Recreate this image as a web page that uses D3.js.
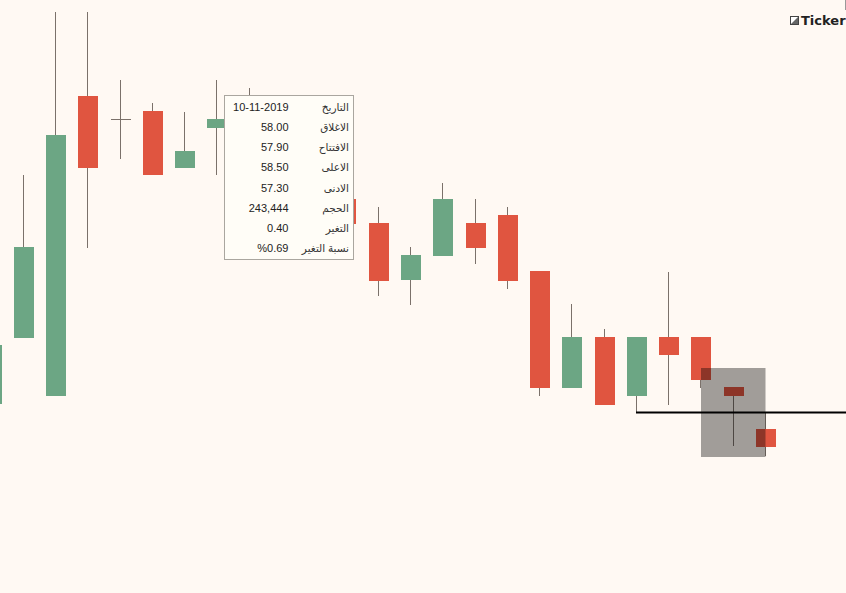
<!DOCTYPE html>
<html>
<head>
<meta charset="utf-8">
<script src="https://cdn.jsdelivr.net/npm/d3@7"></script>
<style>
  html, body { margin: 0; padding: 0; background: #fff9f3; overflow: hidden; }
  svg { display: block; }
</style>
</head>
<body>
<div id="chart"></div>
<script>
// candles 9 and 10 sit behind the tooltip so they are guesses
const opens  = [54.55, 55.37, 54.65, 58.40, 58.11, 58.21, 57.50, 58.00, 57.90, 57.80, 57.60, 57.11, 56.81, 56.10, 56.40, 56.81, 56.91, 56.21, 54.75, 55.39, 54.65, 55.39, 55.39, 54.76, 54.24];
const closes = [55.29, 56.51, 57.91, 57.50, 58.11, 57.41, 57.71, 58.11, 58.00, 57.60, 57.40, 56.80, 56.09, 56.41, 57.11, 56.50, 56.09, 54.75, 55.39, 54.54, 55.39, 55.16, 54.85, 54.65, 54.01];
const highs  = [55.29, 57.41, 59.45, 59.45, 58.60, 58.31, 58.20, 58.60, 58.50, 57.90, 57.70, 57.20, 57.01, 56.51, 57.31, 57.11, 57.01, 56.21, 55.80, 55.49, 55.39, 56.20, 55.39, 54.76, 54.45];
const lows   = [54.55, 55.37, 54.65, 56.50, 57.61, 57.41, 57.50, 57.41, 57.30, 57.50, 57.20, 56.70, 55.90, 55.79, 56.40, 56.30, 55.99, 54.65, 54.75, 54.54, 54.45, 54.54, 54.75, 54.03, 53.90];

const supportPrice = 54.45;
const selectionPrices = [55.00, 53.89];
const selectionCandles = [22, 24];

const tooltipLabels = ['التاريخ', 'الاغلاق', 'الافتتاح', 'الاعلى', 'الادنى', 'الحجم', 'التغير', 'نسبة التغير'];
const tooltipValues = ['10-11-2019', '58.00', '57.90', '58.50', '57.30', '243,444', '0.40', '%0.69'];

const width = 846;
const height = 593;
const bodyWidth = 20;
const green = '#6ca684';
const red = '#e05540';
const wickColor = '#7b716a';

const xScale = d3.scaleLinear().domain([0, 24]).range([-8.5, 766]);
const yScale = d3.scaleLinear().domain([58.5, 53.9]).range([88, 456]);
const px = v => Math.round(yScale(v));

const svg = d3.select('#chart')
  .append('svg')
  .attr('width', width)
  .attr('height', height);

svg.append('rect')
  .attr('width', width)
  .attr('height', height)
  .attr('fill', '#fff9f3');

const candles = opens.map((open, i) => ({ i, open, close: closes[i], high: highs[i], low: lows[i] }));

const groups = svg.append('g')
  .attr('class', 'candles')
  .selectAll('g')
  .data(candles)
  .join('g');

groups.append('line')
  .attr('x1', d => Math.round(xScale(d.i)) - 0.5)
  .attr('x2', d => Math.round(xScale(d.i)) - 0.5)
  .attr('y1', d => px(d.high))
  .attr('y2', d => px(d.low))
  .attr('stroke', wickColor)
  .attr('stroke-width', 1);

// a flat candle has no body, just a dash across the wick
groups.filter(d => d.open === d.close)
  .append('line')
  .attr('x1', d => Math.round(xScale(d.i)) - bodyWidth / 2)
  .attr('x2', d => Math.round(xScale(d.i)) + bodyWidth / 2)
  .attr('y1', d => px(d.open) + 0.5)
  .attr('y2', d => px(d.open) + 0.5)
  .attr('stroke', wickColor);

groups.filter(d => d.open !== d.close)
  .append('rect')
  .attr('x', d => Math.round(xScale(d.i)) - bodyWidth / 2)
  .attr('width', bodyWidth)
  .attr('y', d => px(Math.max(d.open, d.close)))
  .attr('height', d => px(Math.min(d.open, d.close)) - px(Math.max(d.open, d.close)))
  .attr('fill', d => d.close > d.open ? green : red);

// drawn selection box, its right edge stops on the last wick
svg.append('rect')
  .attr('x', Math.round(xScale(selectionCandles[0])))
  .attr('y', px(selectionPrices[0]))
  .attr('width', Math.round(xScale(selectionCandles[1])) - Math.round(xScale(selectionCandles[0])) - 0.5)
  .attr('height', px(selectionPrices[1]) - px(selectionPrices[0]))
  .attr('fill', '#000')
  .attr('fill-opacity', 0.37);

// support line runs off the right edge
svg.append('line')
  .attr('x1', Math.round(xScale(20)) - 1)
  .attr('x2', width)
  .attr('y1', px(supportPrice) + 0.5)
  .attr('y2', px(supportPrice) + 0.5)
  .attr('stroke', '#000')
  .attr('stroke-width', 2);

// tooltip
const tooltip = svg.append('g').attr('class', 'tooltip');

tooltip.append('rect')
  .attr('x', 224.5)
  .attr('y', 95.5)
  .attr('width', 129)
  .attr('height', 164)
  .attr('fill', '#fffdf7')
  .attr('stroke', '#aaa69f');

const rowY = d3.scalePoint().domain(d3.range(tooltipLabels.length)).range([111, 252]);

tooltip.selectAll('text.label')
  .data(tooltipLabels)
  .join('text')
  .attr('class', 'label')
  .attr('x', 349)
  .attr('y', (d, i) => rowY(i))
  .attr('direction', 'rtl')
  .attr('text-anchor', 'start')
  .attr('font-family', '"Noto Sans", "DejaVu Sans", sans-serif')
  .attr('font-size', 10.5)
  .attr('fill', '#333')
  .text(d => d);

tooltip.selectAll('text.value')
  .data(tooltipValues)
  .join('text')
  .attr('class', 'value')
  .attr('x', 288.5)
  .attr('y', (d, i) => rowY(i))
  .attr('text-anchor', 'end')
  .attr('font-family', '"Liberation Sans", sans-serif')
  .attr('font-size', 11)
  .attr('fill', '#222')
  .text(d => d);

// logo, top right
const logo = svg.append('g').attr('class', 'logo');

logo.append('rect')
  .attr('x', 790.5)
  .attr('y', 16.5)
  .attr('width', 8)
  .attr('height', 8)
  .attr('fill', '#fff')
  .attr('stroke', '#444');

logo.append('path')
  .attr('d', 'M791 24 L798 17 L798 24 Z')
  .attr('fill', '#666');

logo.append('text')
  .attr('x', 801)
  .attr('y', 25)
  .attr('font-family', '"DejaVu Sans", sans-serif')
  .attr('font-weight', 'bold')
  .attr('font-size', 13)
  .attr('fill', '#222')
  .text('Ticker');

logo.append('line')
  .attr('x1', 845.5)
  .attr('x2', 845.5)
  .attr('y1', 0)
  .attr('y2', 10)
  .attr('stroke', '#999');
</script>
</body>
</html>
